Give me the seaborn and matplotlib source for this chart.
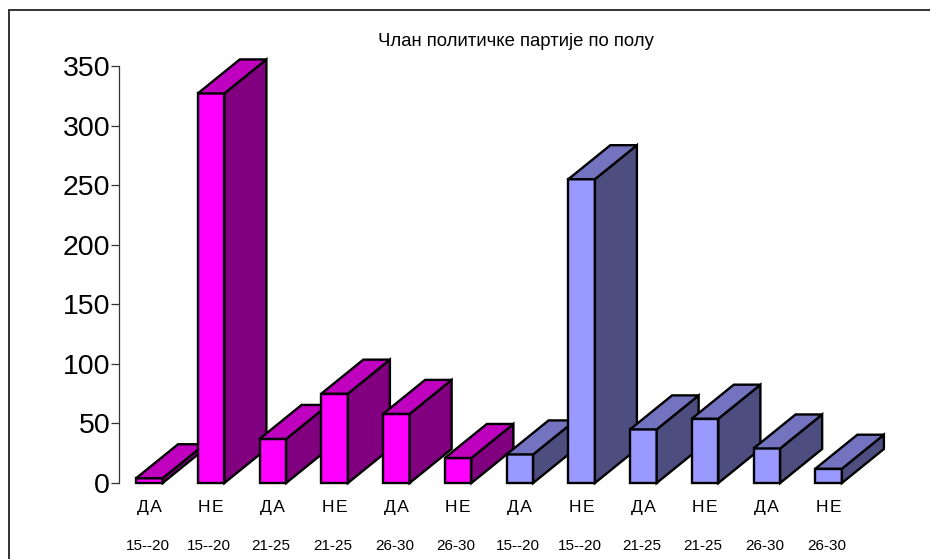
import matplotlib
matplotlib.use("Agg")
import matplotlib.pyplot as plt
from matplotlib.patches import Polygon, Rectangle
import pandas as pd
import seaborn as sns

answers = ["Д\u200aА", "Н\u200aЕ", "Д\u200aА", "Н\u200aЕ", "Д\u200aА", "Н\u200aЕ",
           "Д\u200aА", "Н\u200aЕ", "Д\u200aА", "Н\u200aЕ", "Д\u200aА", "Н\u200aЕ"]
ages = ["15--20", "15--20", "21-25", "21-25", "26-30", "26-30",
        "15--20", "15--20", "21-25", "21-25", "26-30", "26-30"]
counts = [4, 327, 37, 75, 58, 21, 24, 255, 45, 54, 29, 12]
gender = ["f"] * 6 + ["m"] * 6

front = {"f": "#FF00FF", "m": "#9999FF"}
top = {"f": "#BF00BF", "m": "#7373BF"}
side = {"f": "#800080", "m": "#4D4D80"}

W, H = 930, 559
DX, DY = 42, 34  # depth of the 3d bars in pixels

sns.set_theme(style="white")
plt.rcParams["font.family"] = ["Liberation Sans", "DejaVu Sans"]

df = pd.DataFrame({"pos": [str(i) for i in range(len(counts))], "count": counts})

fig = plt.figure(figsize=(W / 100, H / 100), dpi=100)
ax = fig.add_axes([118.5 / W, 1 - 483 / H, 741 / W, 417 / H])

sns.barplot(data=df, x="pos", y="count", ax=ax, width=0.43, color="white", saturation=1)
ax.set_xlim(-0.5, 11.5)
ax.set_ylim(0, 350)

# turn each flat bar into a box, later bars sit in front of earlier ones
for i, bar in enumerate(list(ax.patches)):
    g = gender[i]
    (x0, y0), (x1, y1) = ax.transData.transform(
        [(bar.get_x(), 0), (bar.get_x() + bar.get_width(), counts[i])])
    bar.set(facecolor=front[g], edgecolor="black", linewidth=1.7, zorder=10 + i, clip_on=False)
    pts_top = [(x0, y1), (x1, y1), (x1 + DX, y1 + DY), (x0 + DX, y1 + DY)]
    pts_side = [(x1, y0), (x1 + DX, y0 + DY), (x1 + DX, y1 + DY), (x1, y1)]
    for pts, col in [(pts_side, side[g]), (pts_top, top[g])]:
        ax.add_patch(Polygon(pts, closed=True, transform=None, facecolor=col,
                             edgecolor="black", linewidth=1.7, joinstyle="miter",
                             zorder=10 + i, clip_on=False))

sns.despine(ax=ax, bottom=True)
ax.spines["left"].set(color="#333333", linewidth=0.9)
ax.set_xlabel("")
ax.set_ylabel("")
ax.set_yticks([0, 50, 100, 150, 200, 250, 300, 350])
ax.set_xticks(range(len(answers)))
ax.set_xticklabels(answers, fontsize=12.5)
ax.tick_params(axis="x", length=0, pad=12, colors="black")
ax.tick_params(axis="y", length=6, width=0.9, left=True, color="#333333", labelsize=20.5, pad=0,
               labelcolor="black")

for i, age in enumerate(ages):
    ax.annotate(age, xy=(i, 0), xycoords=("data", "axes fraction"), xytext=(-1.4, -63 * 0.72),
                textcoords="offset points", ha="center", va="center", fontsize=11, color="black")

fig.text(515.5 / W, 1 - 41.5 / H, "Члан политичке партије по полу", ha="center", va="center",
         fontsize=13.3, color="black")

# chart frame
fig.add_artist(Rectangle((9 / W, 1 - 600 / H), 1000 / W, 590 / H, transform=fig.transFigure,
                         fill=False, edgecolor="#333333", linewidth=1.4))

fig.savefig("out.png", dpi=100)
